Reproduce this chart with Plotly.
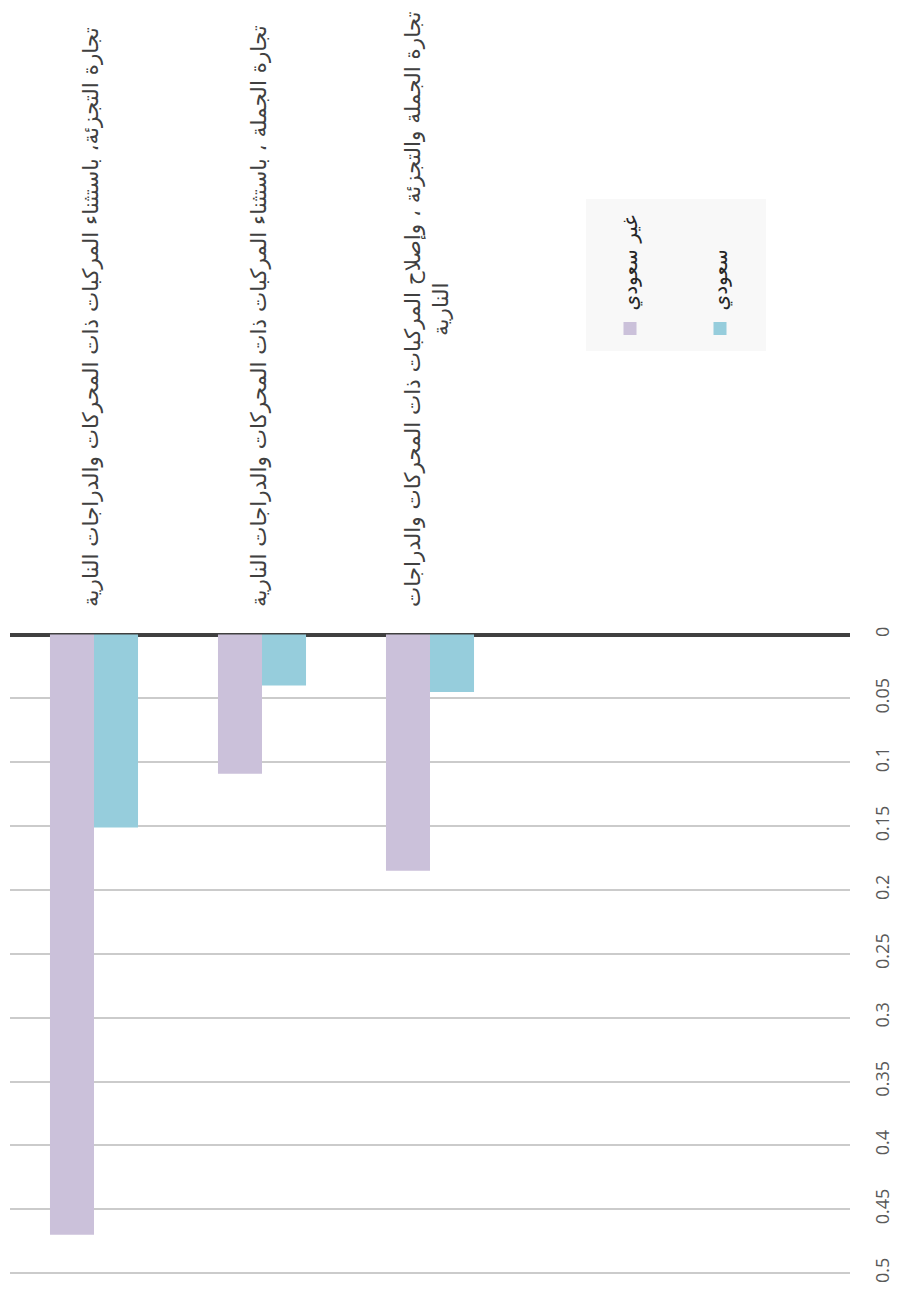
import plotly.graph_objects as go

# ---------------- data ----------------
categories = [
    "تجارة التجزئة، باستثناء المركبات ذات المحركات والدراجات النارية",
    "تجارة الجملة ، باستثناء المركبات ذات المحركات والدراجات النارية",
    "تجارة الجملة والتجزئة ، وإصلاح المركبات ذات المحركات والدراجات النارية",
]
category_labels = [
    "تجارة التجزئة، باستثناء المركبات ذات المحركات والدراجات النارية",
    "تجارة الجملة ، باستثناء المركبات ذات المحركات والدراجات النارية",
    "تجارة الجملة والتجزئة ، وإصلاح المركبات ذات المحركات والدراجات<br>النارية",
]
series_names = ["غير سعودي", "سعودي"]
non_saudi = [0.47, 0.109, 0.185]
saudi = [0.151, 0.040, 0.045]
value_ticks = [0, 0.05, 0.1, 0.15, 0.2, 0.25, 0.3, 0.35, 0.4, 0.45, 0.5]
value_tick_text = ["0", "0.05", "0.1", "0.15", "0.2", "0.25", "0.3", "0.35", "0.4", "0.45", "0.5"]

# ---------------- style ----------------
OFF = 8  # default page body margin
W, H = 898 - OFF, 1304 - OFF
# plot area in page pixels: x 10..850, y 633..1275
L = 10 - OFF
R = 898 - 850
T = 633 - OFF
B = 1304 - 1275
colors = ["#cbc1da", "#96cddc"]
plot_w = W - L - R
plot_h = H - T - B


def px_x(px):
    return (px - OFF - L) / plot_w


def px_y(py):
    return 1 + (T - (py - OFF)) / plot_h


fig = go.Figure()
for name, vals, col in zip(series_names, [non_saudi, saudi], colors):
    fig.add_trace(go.Bar(x=categories, y=vals, name=name, marker_color=col,
                         marker_line_width=0, showlegend=False))

fig.update_layout(
    width=W, height=H,
    margin=dict(l=L, r=R, t=T, b=B, pad=0, autoexpand=False),
    paper_bgcolor="white", plot_bgcolor="white",
    barmode="group", bargap=0.476, bargroupgap=0,
    font=dict(family="DejaVu Sans", color="#404040"),
)
fig.update_xaxes(type="category", categoryorder="array", categoryarray=categories,
                 range=[-0.5, 4.5], showticklabels=False, showgrid=False,
                 zeroline=False, showline=False, ticks="", automargin=False)
fig.update_yaxes(range=[0.5015, -0.0012], side="right", tickvals=value_ticks,
                 ticktext=value_tick_text, tickangle=-90,
                 tickfont=dict(family="Open Sans", size=18, color="#595959"),
                 showgrid=True, gridcolor="#cbcbcb", gridwidth=2,
                 zeroline=True, zerolinecolor="#404040", zerolinewidth=4,
                 showline=False, ticks="", ticklabelstandoff=20, automargin=False)

# category labels (rotated)
for cat, lab in zip(categories, category_labels):
    fig.add_annotation(x=cat, xref="x", y=px_y(609), yref="paper",
                       text=lab, textangle=-90, showarrow=False, xshift=-4,
                       xanchor="center", yanchor="bottom", align="center",
                       font=dict(family="DejaVu Sans", size=21.5, color="#404040"))

# legend (rotated, built manually)
fig.add_shape(type="rect", xref="paper", yref="paper",
              x0=px_x(586), x1=px_x(766), y0=px_y(351), y1=px_y(199),
              fillcolor="#f8f8f8", line_width=0, layer="below")
legend_x = [630, 720]
for name, col, cx in zip(series_names, colors, legend_x):
    fig.add_shape(type="rect", xref="paper", yref="paper",
                  x0=px_x(cx - 6.5), x1=px_x(cx + 6.5),
                  y0=px_y(335), y1=px_y(322), fillcolor=col, line_width=0)
    fig.add_annotation(x=px_x(cx), xref="paper", y=px_y(313), yref="paper",
                       text=name, textangle=-90, showarrow=False,
                       xanchor="center", yanchor="bottom",
                       font=dict(family="DejaVu Sans", size=20, color="#262626"))

fig.write_html("out.html")
